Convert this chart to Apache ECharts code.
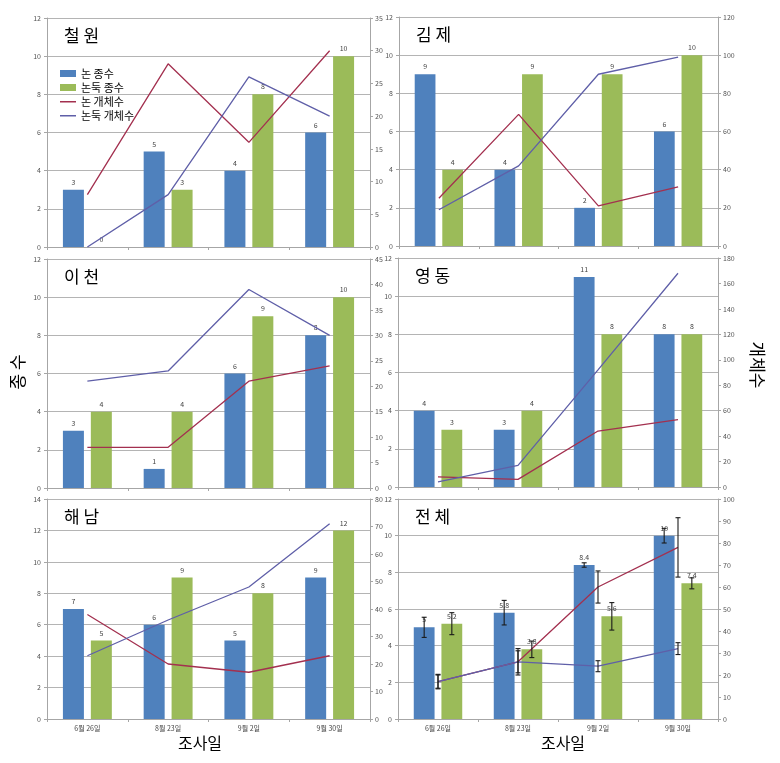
<!DOCTYPE html>
<html><head><meta charset="utf-8">
<script src="https://cdn.jsdelivr.net/npm/echarts@6/dist/echarts.min.js"></script>
<style>html,body{margin:0;padding:0;background:#fff}#c{width:780px;height:763px}</style>
</head><body><div id="c"></div>
<script>
const categories = ['6월 26일', '8월 23일', '9월 2일', '9월 30일'];
const panelNames = ['철 원', '김 제', '이 천', '영 동', '해 남', '전 체'];
const seriesNames = ['논 종수', '논둑 종수', '논 개체수', '논둑 개체수'];

// 종수 (left axis)
const cwNonSp = [3, 5, 4, 6],      cwDukSp = [0, 3, 8, 10];
const kjNonSp = [9, 4, 2, 6],      kjDukSp = [4, 9, 9, 10];
const icNonSp = [3, 1, 6, 8],      icDukSp = [4, 4, 9, 10];
const ydNonSp = [4, 3, 11, 8],     ydDukSp = [3, 4, 8, 8];
const hnNonSp = [7, 6, 5, 9],      hnDukSp = [5, 9, 8, 12];
const totNonSp = [5, 5.8, 8.4, 10], totDukSp = [5.2, 3.8, 5.6, 7.4];
// 개체수 (right axis)
const cwNonInd = [8, 28, 16, 30],   cwDukInd = [0, 8, 26, 20];
const kjNonInd = [25, 69, 21, 31],  kjDukInd = [19, 42, 90, 99];
const icNonInd = [8, 8, 21, 24],    icDukInd = [21, 23, 39, 30];
const ydNonInd = [8, 6, 44, 53],    ydDukInd = [4, 17, 92, 168];
const hnNonInd = [38, 20, 17, 23],  hnDukInd = [23, 36, 48, 71];
const totNonInd = [17, 26, 60, 78], totDukInd = [17, 26, 24, 32];
// 전체 error bars
const totNonSpErr = [0.55, 0.67, 0.12, 0.4];
const totDukSpErr = [0.6, 0.45, 0.75, 0.3];
const totNonIndErr = [3.3, 6, 7.3, 13.5];
const totDukIndErr = [3, 5, 2.5, 2.7];
// axis ticks
const leftMax = [12, 12, 12, 12, 14, 12];
const rightMax = [35, 120, 45, 180, 80, 100];
const rightInterval = [5, 20, 5, 20, 10, 10];

const panels = [
  [cwNonSp, cwDukSp, cwNonInd, cwDukInd],
  [kjNonSp, kjDukSp, kjNonInd, kjDukInd],
  [icNonSp, icDukSp, icNonInd, icDukInd],
  [ydNonSp, ydDukSp, ydNonInd, ydDukInd],
  [hnNonSp, hnDukSp, hnNonInd, hnDukInd],
  [totNonSp, totDukSp, totNonInd, totDukInd]
];

const FONT = '"Noto Sans CJK KR", "Noto Sans", sans-serif';
const C_BLUE = '#4F81BD', C_GREEN = '#9BBB59', C_RED = '#A3304F', C_PUR = '#5F5FA8';
const BAR_W = 0.26, BAR_GAP = 0.33;

const grids = [
  {left: 47, top: 18, width: 323, height: 229},
  {left: 399, top: 17, width: 319, height: 229},
  {left: 47, top: 259, width: 323, height: 229},
  {left: 398, top: 258, width: 320, height: 229},
  {left: 47, top: 499, width: 323, height: 220},
  {left: 398, top: 499, width: 320, height: 220}
];

const xAxis = [], yAxis = [], series = [], titles = [];
const axisGray = '#a6a6a6';
panels.forEach((p, k) => {
  const bottomRow = k >= 4;
  xAxis.push({
    type: 'category', gridIndex: k, data: categories, boundaryGap: true,
    axisLine: {lineStyle: {color: axisGray}},
    axisTick: {show: true, length: 3, lineStyle: {color: axisGray}},
    axisLabel: {show: bottomRow, fontSize: 7, color: '#444', fontFamily: FONT, margin: 6}
  });
  yAxis.push({
    type: 'value', gridIndex: k, min: 0, max: leftMax[k], interval: 2, position: 'left',
    axisLine: {show: true, lineStyle: {color: axisGray}},
    axisTick: {show: true, length: 3, lineStyle: {color: axisGray}},
    axisLabel: {fontSize: 7, color: '#555', margin: 6},
    splitLine: {show: true, lineStyle: {color: '#b4b4b4', width: 1}}
  });
  yAxis.push({
    type: 'value', gridIndex: k, min: 0, max: rightMax[k], interval: rightInterval[k], position: 'right',
    axisLine: {show: true, lineStyle: {color: axisGray}},
    axisTick: {show: true, length: 3, lineStyle: {color: axisGray}},
    axisLabel: {fontSize: 7, color: '#555', margin: 5},
    splitLine: {show: false}
  });
  const lbl = {show: true, position: 'top', fontSize: 7, color: '#444', distance: 4};
  series.push({
    name: seriesNames[0], type: 'bar', xAxisIndex: k, yAxisIndex: 2 * k, data: p[0],
    barWidth: (BAR_W * 100) + '%', barGap: (BAR_GAP * 100) + '%',
    itemStyle: {color: C_BLUE}, label: lbl, z: 2
  });
  series.push({
    name: seriesNames[1], type: 'bar', xAxisIndex: k, yAxisIndex: 2 * k, data: p[1],
    barWidth: (BAR_W * 100) + '%', barGap: (BAR_GAP * 100) + '%',
    itemStyle: {color: C_GREEN}, label: lbl, z: 2
  });
  series.push({
    name: seriesNames[2], type: 'line', xAxisIndex: k, yAxisIndex: 2 * k + 1, data: p[2],
    symbol: 'none', lineStyle: {color: C_RED, width: 1.3}, itemStyle: {color: C_RED}, z: 4
  });
  series.push({
    name: seriesNames[3], type: 'line', xAxisIndex: k, yAxisIndex: 2 * k + 1, data: p[3],
    symbol: 'none', lineStyle: {color: C_PUR, width: 1.3}, itemStyle: {color: C_PUR}, z: 4
  });
  titles.push({
    text: panelNames[k], left: grids[k].left + 12, top: grids[k].top + 4,
    textStyle: {fontSize: 17, fontWeight: 'normal', color: '#000', fontFamily: FONT}
  });
});

function errRender(sign) {
  return function (params, api) {
    const i = api.value(0), v = api.value(1), e = api.value(2);
    const cw = api.size([1, 0])[0];
    const bw = cw * BAR_W;
    const off = sign * (bw + bw * BAR_GAP) / 2;
    const t = api.coord([i, v + e]), b = api.coord([i, v - e]);
    const x = t[0] + off, h = 2.5;
    const st = {stroke: '#1a1a1a', lineWidth: 1.1};
    return {type: 'group', children: [
      {type: 'line', shape: {x1: x, y1: t[1], x2: x, y2: b[1]}, style: st},
      {type: 'line', shape: {x1: x - h, y1: t[1], x2: x + h, y2: t[1]}, style: st},
      {type: 'line', shape: {x1: x - h, y1: b[1], x2: x + h, y2: b[1]}, style: st}
    ]};
  };
}
function errData(vals, errs) { return vals.map((v, i) => [i, v, errs[i]]); }
[[totNonSp, totNonSpErr, -1, 10], [totDukSp, totDukSpErr, 1, 10],
 [totNonInd, totNonIndErr, 0, 11], [totDukInd, totDukIndErr, 0, 11]].forEach(([v, e, s, yi]) => {
  series.push({
    type: 'custom', xAxisIndex: 5, yAxisIndex: yi, renderItem: errRender(s),
    data: errData(v, e), encode: {x: 0, y: 1}, z: 6, silent: true
  });
});

const lineIcon = 'path://M0,0 L0.01,0 Z M0,3 L16,3 L16,4.5 L0,4.5 Z M16,7 L15.99,7 Z';

const chart = echarts.init(document.getElementById('c'), null, {renderer: 'canvas'});
chart.setOption({
  animation: false,
  backgroundColor: '#fff',
  textStyle: {fontFamily: FONT},
  title: titles,
  grid: grids,
  xAxis: xAxis,
  yAxis: yAxis,
  legend: {
    orient: 'vertical', left: 55, top: 63, itemWidth: 16, itemHeight: 7, itemGap: 3,
    textStyle: {fontSize: 11, color: '#000', fontFamily: FONT},
    data: [
      {name: seriesNames[0], icon: 'rect'},
      {name: seriesNames[1], icon: 'rect'},
      {name: seriesNames[2], icon: lineIcon, itemStyle: {color: C_RED, borderWidth: 0}},
      {name: seriesNames[3], icon: lineIcon, itemStyle: {color: C_PUR, borderWidth: 0}}
    ]
  },
  graphic: [
    {type: 'text', x: 18, y: 372, rotation: Math.PI / 2,
     style: {text: '종 수', fontSize: 17, fill: '#000', fontFamily: FONT, align: 'center', verticalAlign: 'middle'}},
    {type: 'text', x: 757, y: 365, rotation: -Math.PI / 2,
     style: {text: '개체수', fontSize: 17, fill: '#000', fontFamily: FONT, align: 'center', verticalAlign: 'middle'}},
    {type: 'text', x: 200, y: 743,
     style: {text: '조사일', fontSize: 16, fill: '#000', fontFamily: FONT, align: 'center', verticalAlign: 'middle'}},
    {type: 'text', x: 563, y: 743,
     style: {text: '조사일', fontSize: 16, fill: '#000', fontFamily: FONT, align: 'center', verticalAlign: 'middle'}}
  ],
  series: series
});
</script></body></html>
